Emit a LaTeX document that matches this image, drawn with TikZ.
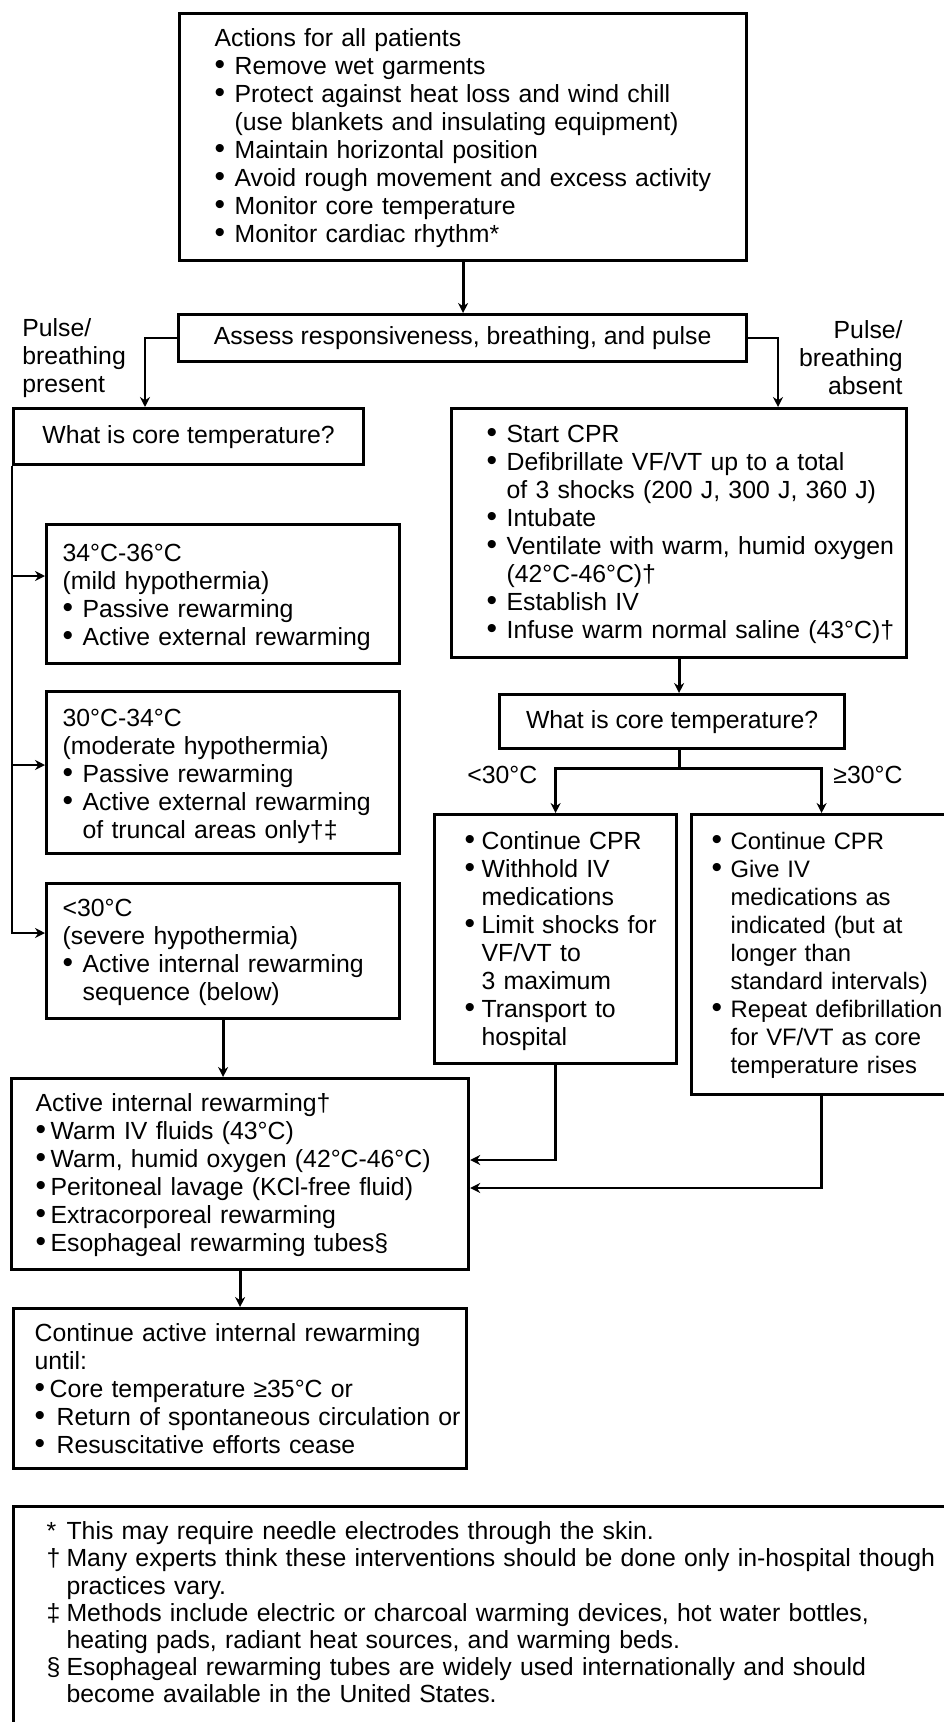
\documentclass[tikz,border=0pt]{standalone}
\usepackage{fontspec}
\setmainfont{Liberation Sans}
\usetikzlibrary{arrows.meta,calc}
\newcommand{\bl}[1][10pt]{\makebox[#1][l]{\fontsize{15}{14}\selectfont\textbullet}}
\newcommand{\ind}[1][10pt]{\hspace*{#1}}
\newcommand{\lin}[1]{\mbox{#1}\\}
\newcommand{\fnm}[1]{\makebox[10pt][l]{#1}}
\begin{document}
\begin{tikzpicture}[x=0.5pt,y=-0.5pt,
  txt/.style={font=\fontsize{12.4}{14}\selectfont},
  box/.style={txt, draw, line width=1.6pt, anchor=north west, align=left, inner ysep=0pt},
  cbox/.style={txt, draw, line width=1.6pt, anchor=north west, align=center, inner sep=0pt},
  arr/.style={line width=1.4pt, -{Stealth[length=5pt,width=5pt]}},
  ln/.style={line width=1.4pt},
  lbl/.style={txt, inner sep=0pt}]
\path[use as bounding box, fill=white] (0,0) rectangle (943,1722);

% top box
\node[box, text width=248.5pt, inner xsep=17.5pt, text height=16.5pt, text depth=107pt] (top) at (178,12) {%
\lin{Actions for all patients}
\lin{\bl Remove wet garments}
\lin{\bl Protect against heat loss and wind chill}
\lin{\ind (use blankets and insulating equipment)}
\lin{\bl Maintain horizontal position}
\lin{\bl Avoid rough movement and excess activity}
\lin{\bl Monitor core temperature}
\mbox{\bl Monitor cardiac rhythm*}};

\node[cbox, minimum width=284pt, minimum height=23.5pt] (assess) at (177,313) {Assess responsiveness, breathing, and pulse};

\node[lbl, anchor=north west, text width=60pt, align=left, text height=9pt] (pp) at (22,318) {Pulse/\\breathing\\present};
\node[lbl, anchor=north east, text width=60pt, align=right, text height=9pt] (pa) at (903,320) {Pulse/\\breathing\\absent};

\node[cbox, minimum width=175pt, minimum height=28pt] (whatL) at (12,407) {What is core temperature?};

\node[box, text width=192.5pt, inner xsep=17.5pt, text height=17pt, text depth=107.5pt] (cpr) at (450,407) {%
\lin{\bl Start CPR}
\lin{\bl Defibrillate VF/VT up to a total}
\lin{\ind of 3 shocks (200 J, 300 J, 360 J)}
\lin{\bl Intubate}
\lin{\bl Ventilate with warm, humid oxygen}
\lin{\ind (42°C-46°C)†}
\lin{\bl Establish IV}
\mbox{\bl Infuse warm normal saline (43°C)†}};

\node[box, text width=160.5pt, inner xsep=8pt, text height=18.5pt, text depth=51pt] (mild) at (45,523) {%
\lin{34°C-36°C}
\lin{(mild hypothermia)}
\lin{\bl Passive rewarming}
\mbox{\bl Active external rewarming}};

\node[box, text width=160.5pt, inner xsep=8pt, text height=17.5pt, text depth=63.5pt] (moderate) at (45,690) {%
\lin{30°C-34°C}
\lin{(moderate hypothermia)}
\lin{\bl Passive rewarming}
\lin{\bl Active external rewarming}
\mbox{\ind of truncal areas only†‡}};

\node[box, text width=160.5pt, inner xsep=8pt, text height=16.5pt, text depth=51pt] (severe) at (45,882) {%
\lin{<30°C}
\lin{(severe hypothermia)}
\lin{\bl Active internal rewarming}
\mbox{\ind sequence (below)}};

\node[cbox, minimum width=172.5pt, minimum height=27pt] (whatR) at (498,693) {What is core temperature?};

\node[lbl, anchor=base west] (l30) at (467,783) {<30°C};
\node[lbl, anchor=base west] (g30) at (833,783) {≥30°C};

\node[box, text width=91pt, inner xsep=15pt, text height=17.5pt, text depth=107pt] (lt) at (433,813) {%
\lin{\bl[8.5pt]Continue CPR}
\lin{\bl[8.5pt]Withhold IV}
\lin{\ind[8.5pt]medications}
\lin{\bl[8.5pt]Limit shocks for}
\lin{\ind[8.5pt]VF/VT to}
\lin{\ind[8.5pt]3 maximum}
\lin{\bl[8.5pt]Transport to}
\mbox{\ind[8.5pt]hospital}};

\node[box, font=\fontsize{11.9}{14}\selectfont, text width=110pt, inner xsep=10pt, text height=17.5pt, text depth=122.5pt] (ge) at (690,813) {%
\lin{\bl[9.5pt]Continue CPR}
\lin{\bl[9.5pt]Give IV}
\lin{\ind[9.5pt]medications as}
\lin{\ind[9.5pt]indicated (but at}
\lin{\ind[9.5pt]longer than}
\lin{\ind[9.5pt]standard intervals)}
\lin{\bl[9.5pt]Repeat defibrillation}
\lin{\ind[9.5pt]for VF/VT as core}
\mbox{\ind[9.5pt]temperature rises}};

\node[box, text width=204.5pt, inner xsep=12pt, text height=16.5pt, text depth=79pt] (active) at (10,1077) {%
\lin{Active internal rewarming†}
\lin{\bl[7.5pt]Warm IV fluids (43°C)}
\lin{\bl[7.5pt]Warm, humid oxygen (42°C-46°C)}
\lin{\bl[7.5pt]Peritoneal lavage (KCl-free fluid)}
\lin{\bl[7.5pt]Extracorporeal rewarming}
\mbox{\bl[7.5pt]Esophageal rewarming tubes§}};

\node[box, text width=205.5pt, inner xsep=10.5pt, text height=16.5pt, text depth=63.5pt] (cont) at (12,1307) {%
\lin{Continue active internal rewarming}
\lin{until:}
\lin{\bl[7.5pt]Core temperature ≥35°C or}
\lin{\bl[11pt]Return of spontaneous circulation or}
\mbox{\bl[11pt]Resuscitative efforts cease}};

\node[box, font=\fontsize{12.4}{13.6}\selectfont, text width=441pt, inner xsep=16.5pt, text height=16.5pt, text depth=111pt] (foot) at (12,1505) {%
\lin{\fnm{*}This may require needle electrodes through the skin.}
\lin{\fnm{†}Many experts think these interventions should be done only in-hospital though}
\lin{\ind practices vary.}
\lin{\fnm{‡}Methods include electric or charcoal warming devices, hot water bottles,}
\lin{\ind heating pads, radiant heat sources, and warming beds.}
\lin{\fnm{§}Esophageal rewarming tubes are widely used internationally and should}
\mbox{\ind become available in the United States.}};

% connectors
\coordinate (xl) at (145,0);
\coordinate (xr) at (778,0);
\draw[arr] (top.south) -- (top.south |- assess.north);
\draw[arr] (assess.west) -| (whatL.north -| xl);
\draw[arr] (assess.east) -| (cpr.north -| xr);

\coordinate (am) at ($(mild.north west)+(0,53)$);
\coordinate (amo) at ($(moderate.north west)+(0,75)$);
\coordinate (as) at ($(severe.north west)+(0,51)$);
\draw[arr] (whatL.south west) |- (as);
\draw[arr] (whatL.south west |- am) -- (am);
\draw[arr] (whatL.south west |- amo) -- (amo);

\draw[arr] (severe.south) -- (severe.south |- active.north);
\draw[arr] (active.south) -- (active.south |- cont.north);

\draw[arr] (cpr.south) -- (cpr.south |- whatR.north);
\coordinate (br) at ($(whatR.south -| cpr.south)+(0,18)$);
\draw[ln] (whatR.south -| cpr.south) -- (br);
\draw[arr] (br) -| (lt.north);
\draw[arr] (br) -| (ge.north);

\coordinate (a1) at ($(active.north east)+(0,83)$);
\coordinate (a2) at ($(active.north east)+(0,111)$);
\draw[arr] (lt.south) |- (a1);
\draw[arr] (ge.south) |- (a2);
\end{tikzpicture}
\end{document}
